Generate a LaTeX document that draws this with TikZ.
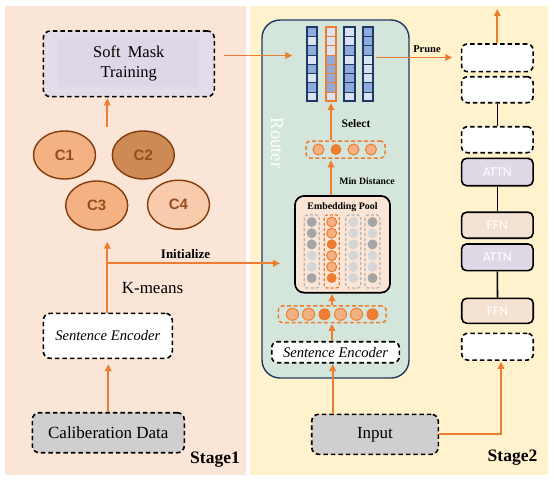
\documentclass[tikz,border=0pt]{standalone}
\usepackage{fontspec}
\setmainfont{Liberation Serif}
\newfontfamily\carl{Carlito}
\newfontfamily\lsans{Liberation Sans}
\usetikzlibrary{arrows.meta,shapes.geometric}
\definecolor{lpanel}{HTML}{FBE5D6}
\definecolor{rpanel}{HTML}{FFF2CC}
\definecolor{routerc}{HTML}{D4E6DC}
\definecolor{navy}{HTML}{1F3864}
\definecolor{mD}{HTML}{8FAADC}
\definecolor{mL}{HTML}{DAE3F3}
\definecolor{oC}{HTML}{ED7D31}
\definecolor{oL}{HTML}{F4B183}
\definecolor{gD}{HTML}{A6A6A6}
\definecolor{gL}{HTML}{D6D6D6}
\definecolor{gB}{HTML}{B4B4B4}
\definecolor{boxgrey}{HTML}{D0CECE}
\definecolor{lav}{HTML}{E4DCE8}
\definecolor{lavin}{HTML}{DED7E7}
\definecolor{attnc}{HTML}{E1D8E6}
\definecolor{ffnc}{HTML}{F3E2D1}
\definecolor{cbr}{HTML}{843C0C}
\definecolor{cA}{HTML}{F4B183}
\definecolor{cB}{HTML}{CE8A54}
\definecolor{cC}{HTML}{F8CBAD}
\definecolor{ctext}{HTML}{9A4B1C}
\newcommand\fsz[1]{\fontsize{#1}{#1}\selectfont}
\begin{document}
\begin{tikzpicture}[x=1pt,y=-1pt,
  dbox/.style={draw=black, line width=1.6pt, dash pattern=on 4.5pt off 3pt, rounded corners=7pt, inner sep=0pt, align=center},
  sbox/.style={draw=black, line width=1.6pt, rounded corners=5pt, inner sep=0pt},
  stk/.style={minimum width=71.5pt, inner sep=0pt, font=\carl\fsz{13.5}, text=white},
  arr/.style={draw=oC, line width=1.7pt, -{Triangle[length=7pt,width=6.5pt]}},
  cl/.style={ellipse, draw=cbr, line width=1.4pt, minimum width=62pt, minimum height=48pt, inner sep=0pt, font=\lsans\bfseries\fsz{15}, text=ctext},
  lbl/.style={font=\bfseries\fsz{13}, inner sep=0pt},
  odash/.style={draw=oC, line width=1.5pt, dash pattern=on 4pt off 2.5pt, rounded corners=4pt, inner sep=0pt},
  dgd/.style={fill=gD},
  dgl/.style={fill=gL},
  dol/.style={fill=oL, draw=oC, line width=1pt},
  doo/.style={fill=oC},
]
\useasboundingbox (0,0) rectangle (554,483);
\fill[white] (0,0) rectangle (554,483);
% panels
\fill[lpanel] (5,6) rectangle (246,475);
\fill[rpanel] (250,6) rectangle (548,475);

% ---------- Stage 1 ----------
\node[dbox, fill=lav, minimum width=171pt, minimum height=65.7pt] (smt) at (128.8,63.8) {};
\fill[lavin] (58,36.7) rectangle (199,87.3);
\node[font=\fontsize{16.5}{20}\selectfont, align=center, inner sep=0pt] (smtt) at (128.8,63.8) {Soft\hspace{3pt} Mask\\Training};

\node[cl, fill=cA] (c1) at (64.5,155) {C1};
\node[cl, fill=cB] (c2) at (143.3,155) {C2};
\node[cl, fill=cA, minimum height=49pt] (c3) at (96.7,205.5) {C3};
\node[cl, fill=cC, minimum height=49pt] (c4) at (178.5,204.7) {C4};

\node[dbox, fill=white, minimum width=129pt, minimum height=45pt, font=\itshape\fsz{14.6}] (senc1) at (107.8,335.8) {Sentence Encoder};
\node[dbox, fill=boxgrey, minimum width=152pt, minimum height=40pt, font=\fsz{17}] (calib) at (108.3,432.7) {Caliberation Data};

\node[lbl] (initlbl) at (185.5,254) {Initialize};
\node[font=\fsz{17}, inner sep=0pt] (kmeans) at (152.5,287.7) {K-means};
\node[font=\bfseries\fsz{17.5}, inner sep=0pt] (st1) at (215,460) {Stage1};

% ---------- Stage 2 ----------
\node[draw=navy, line width=1.4pt, fill=routerc, rounded corners=18pt, minimum width=147pt, minimum height=358pt, inner sep=0pt] (router) at (335.5,199) {};
\node[rotate=-90, text=white, font=\fsz{18.5}, inner sep=0pt] (rtxt) at (277,143) {Router};

% matrix
\node[inner sep=0pt, minimum width=67pt, minimum height=74pt] (mat) at (340,64.3) {};
\foreach \cx/\bc/\pat in {311.7/navy/{mD,mL,mD,mL,mD,mL,mD,mL}, 330.7/oC/{mL,mL,mL,mD,mD,mD,mD,mL}, 349.5/navy/{mL,mL,mD,mL,mD,mD,mD,mL}, 368.2/navy/{mD,mD,mD,mL,mL,mL,mD,mL}} {
  \foreach \v [count=\i from 0] in \pat {
    \filldraw[fill=\v, draw=\bc, line width=1.1pt] (\cx-5.2, 27.3+\i*9.25) rectangle ++(10.4,9.25);
  }
  \draw[\bc, line width=2pt] (\cx-5.2,27.3) rectangle ++(10.4,74);
}

% select dots
\node[odash, minimum width=79pt, minimum height=17pt] (dots1) at (345.5,149.5) {};
\foreach \x/\s in {318.5/dol, 336/doo, 353.5/dol, 371/dol} { \path[\s] (\x,149.5) circle (5.5); }

% embedding pool
\node[draw=black, line width=1.7pt, fill=lpanel, rounded corners=9pt, minimum width=95pt, minimum height=96.7pt, inner sep=0pt] (pool) at (342.5,244.3) {};
\node[font=\bfseries\fsz{9.9}, inner sep=0pt] (pooltitle) at (342.5,206.7) {Embedding Pool};
\foreach \cx/\bc/\pat in {311.7/gB/{dgd,dgd,dgd,dgl,dgl,dgd}, 331.7/oC/{dol,dol,doo,dol,dol,doo}, 353.3/gB/{dgl,dgl,dgl,dgl,dgl,dgl}, 372.5/gB/{dgd,dgl,dgd,dgl,dgl,dgd}} {
  \draw[\bc, line width=1.3pt, dash pattern=on 3pt off 2pt, rounded corners=3pt] (\cx-7.5,215) rectangle (\cx+7.5,288);
  \foreach \v [count=\i from 0] in \pat { \path[\v] (\cx, 222+\i*11.2) circle (5); }
}

% encoder dots
\node[odash, minimum width=107.7pt, minimum height=16.7pt] (dots2) at (332.2,314.3) {};
\foreach \x/\s in {292.5/dol, 308.5/dol, 324.5/doo, 340.5/dol, 356.5/dol, 372.5/doo} { \path[\s] (\x,314.3) circle (6); }

\node[dbox, fill=white, minimum width=127.6pt, minimum height=21pt, rounded corners=6pt, font=\itshape\fsz{14.6}] (senc2) at (335.5,352.2) {Sentence Encoder};
\node[dbox, fill=boxgrey, minimum width=126.6pt, minimum height=40pt, font=\fsz{17}] (input) at (375,434.3) {Input};

% stack
\node[dbox, stk, fill=white, minimum height=27.7pt, rounded corners=6pt] (b1) at (497.3,57.8) {};
\node[dbox, stk, fill=white, minimum height=26pt, rounded corners=6pt] (b2) at (497.3,89.7) {};
\node[dbox, stk, fill=white, minimum height=26pt, rounded corners=6pt] (b3) at (497.3,139.7) {};
\node[sbox, stk, fill=attnc, minimum height=27.4pt] (attn1) at (497.3,172) {ATTN};
\node[sbox, stk, fill=ffnc, minimum height=26pt] (ffn1) at (497.3,225.2) {FFN};
\node[sbox, stk, fill=attnc, minimum height=26.7pt] (attn2) at (497.3,257.3) {ATTN};
\node[sbox, stk, fill=ffnc, minimum height=25pt] (ffn2) at (497.5,310.8) {FFN};
\node[dbox, stk, fill=white, minimum height=26.7pt, rounded corners=6pt] (b4) at (497.5,346.7) {};
\draw[line width=1.6pt] (b2.south) -- (b3.north);
\draw[line width=1.6pt] (attn1.south) -- (ffn1.north);
\draw[line width=1.6pt] (attn2.south) -- (ffn2.north);

\node[font=\bfseries\fsz{10.5}, inner sep=0pt] (prunelbl) at (427,49) {Prune};
\node[font=\bfseries\fsz{11.5}, inner sep=0pt] (sellbl) at (356,124) {Select};
\node[font=\bfseries\fsz{9.7}, inner sep=0pt] (minlbl) at (367,181) {Min Distance};
\node[font=\bfseries\fsz{17.5}, inner sep=0pt] (st2) at (512.5,458) {Stage2};

% ---------- connectors ----------
\coordinate (ctop) at (107.3,127);
\draw[arr, shorten >=1pt] (ctop) -- (ctop |- smt.south);
\draw[arr, shorten >=5pt] (calib.north) -- (calib.north |- senc1.south);
\coordinate (kup) at (107.3,241.7);
\coordinate (split) at (107.3,263.3);
\draw[arr] (senc1.north -| kup) -- (kup);
\draw[arr, shorten >=14pt] (split) -- (split -| pool.west);
\coordinate (a1s) at (224,55.5);
\draw[arr, shorten >=14pt] (a1s) -- (a1s -| mat.west);
\coordinate (pst) at (376,57.5);
\draw[arr, shorten >=8.5pt] (pst) -- (pst -| b1.west);
\coordinate (ax) at (331,0);
\draw[arr, shorten >=1.5pt] (ax |- dots1.north) -- (ax |- mat.south);
\draw[arr, shorten >=1.5pt] (ax |- pool.north) -- (ax |- dots1.south);
\coordinate (bx) at (332,0);
\draw[arr, shorten >=0.5pt] (bx |- dots2.north) -- (bx |- pool.south);
\draw[arr, shorten >=0.5pt] (bx |- senc2.north) -- (bx |- dots2.south);
\coordinate (cx) at (332.7,0);
\draw[arr, shorten >=0.5pt] (cx |- input.north) -- (cx |- senc2.south);
\coordinate (ix) at (501,0);
\draw[arr, shorten >=1pt] (input.east) -| (ix |- b4.south);
\coordinate (topend) at (497.3,9);
\draw[arr] (b1.north) -- (topend);
\end{tikzpicture}
\end{document}
